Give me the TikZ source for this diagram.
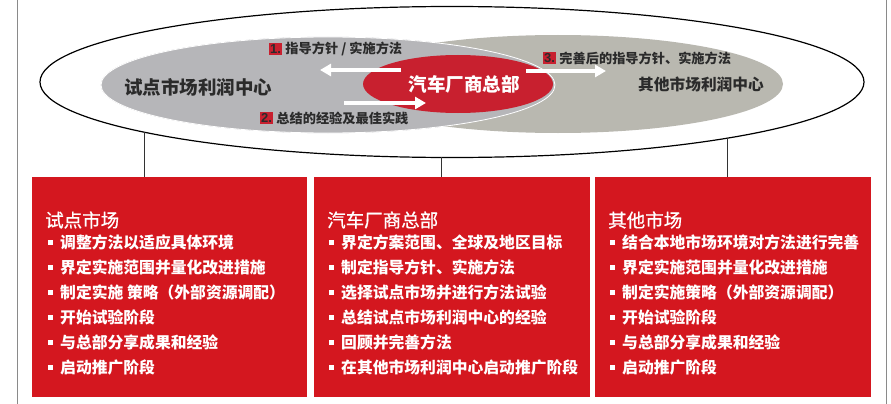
\documentclass[tikz,border=0pt]{standalone}
\usepackage{fontspec}
\newfontfamily\cjk{Noto Sans CJK SC}
\newfontfamily\cjkmed[FakeBold=0.8]{Noto Sans CJK SC}
\newfontfamily\arial{Liberation Sans}
\usetikzlibrary{arrows.meta}
\definecolor{boxred}{HTML}{D4171F}
\definecolor{ellred}{HTML}{C8202F}
\definecolor{grayL}{HTML}{B6B6B9}
\definecolor{grayR}{HTML}{B9B8B0}
\definecolor{darktxt}{HTML}{2B2B2B}
\definecolor{framegray}{HTML}{8A8A8A}
\newcommand\panelitems[3]{%
  \foreach \t [count=\i] in {#3} {
    \node[bulsq] (#1b\i) at (#2, 217+25*\i) {};
    \node[item] (#1t\i) at (#2+10, 217+25*\i) {\t};
  }}
\begin{document}
\begin{tikzpicture}[x=1pt,y=-1pt,
  panel/.style={fill=boxred, draw=none, minimum height=220pt, inner sep=0pt, anchor=north west},
  bulsq/.style={fill=white, draw=none, minimum size=5pt, inner sep=0pt},
  item/.style={anchor=west, inner sep=0pt, text=white, font=\cjk\bfseries\fontsize{15.8pt}{16pt}\selectfont},
  ptitle/.style={anchor=west, inner sep=0pt, text=white, font=\cjkmed\fontsize{18.5pt}{19pt}\selectfont},
  elltxt/.style={inner sep=0pt, text=darktxt, font=\cjk\bfseries\fontsize{18.5pt}{19pt}\selectfont},
  numbox/.style={anchor=west, fill=ellred, text=darktxt, inner xsep=1pt, inner ysep=1.5pt, font=\arial\bfseries\fontsize{13pt}{13pt}\selectfont},
  lbl/.style={anchor=west, inner sep=0pt, text=darktxt, font=\cjk\bfseries\fontsize{13.2pt}{13pt}\selectfont},
  warrow/.style={draw=white, line width=3.5pt, -{Triangle[length=11pt,width=12pt]}},
  conn/.style={draw=black!80, line width=1pt}
]
\useasboundingbox (0,0) rectangle (891,404);
% frame lines
\draw[framegray, line width=1pt] (17,0) -- (17,404);
\draw[framegray, line width=1pt] (886,0) -- (886,404);
% outer ellipse
\draw[black, line width=1.2pt, fill=white] (452,82) ellipse [x radius=412pt, y radius=75.5pt];
% gray ellipses
\fill[grayR] (558,84) ellipse [x radius=225pt, y radius=49pt];
\draw[grayL, fill=grayL] (328,85) ellipse [x radius=227pt, y radius=48pt];
\draw[white, line width=0.8pt] (328,85) ellipse [x radius=227pt, y radius=48pt];
% red ellipse
\fill[ellred] (458,84) ellipse [x radius=95pt, y radius=29pt];
% texts in ellipses
\node[elltxt] (pilot) at (198,87) {试点市场利润中心};
\node[elltxt, font=\cjk\bfseries\fontsize{15.7pt}{16pt}\selectfont] (other) at (701,84) {其他市场利润中心};
\node[elltxt, text=white] (hq) at (464,84) {汽车厂商总部};
% arrows
\coordinate (a1s) at (401,70); \coordinate (a1e) at (320,70);
\coordinate (a2s) at (344,103); \coordinate (a2e) at (426,103);
\coordinate (a3s) at (526,71); \coordinate (a3e) at (606,71);
\draw[warrow] (a1s) -- (a1e);
\draw[warrow] (a2s) -- (a2e);
\draw[warrow] (a3s) -- (a3e);
% labels
\node[numbox] (n1) at (269,49) {1.};
\node[lbl] (l1) at ([xshift=3pt]n1.east) {指导方针 / 实施方法};
\node[numbox] (n2) at (260,118) {2.};
\node[lbl] (l2) at ([xshift=3pt]n2.east) {总结的经验及最佳实践};
\node[numbox] (n3) at (543,58) {3.};
\node[lbl] (l3) at ([xshift=3pt]n3.east) {完善后的指导方针、实施方法};
% panels
\node[panel, minimum width=275pt] (p1) at (32,177) {};
\node[panel, minimum width=276pt] (p2) at (314,177) {};
\node[panel, minimum width=276pt] (p3) at (595,177) {};
% connectors
\coordinate (v1) at (144,132);
\coordinate (v2) at (441,157);
\coordinate (v3) at (727,138);
\draw[conn] (v1) -- (v1 |- p1.north);
\draw[conn] (v2) -- (v2 |- p2.north);
\draw[conn] (v3) -- (v3 |- p3.north);
% panel titles
\node[ptitle] (t1) at (45,220) {试点市场};
\node[ptitle] (t2) at (327,220) {汽车厂商总部};
\node[ptitle] (t3) at (608,220) {其他市场};
% items
\panelitems{a}{50}{调整方法以适应具体环境,界定实施范围并量化改进措施,制定实施 策略（外部资源调配）,开始试验阶段,与总部分享成果和经验,启动推广阶段}
\panelitems{b}{331}{界定方案范围、全球及地区目标,制定指导方针、实施方法,选择试点市场并进行方法试验,总结试点市场利润中心的经验,回顾并完善方法,在其他市场利润中心启动推广阶段}
\panelitems{c}{612}{结合本地市场环境对方法进行完善,界定实施范围并量化改进措施,制定实施策略（外部资源调配）,开始试验阶段,与总部分享成果和经验,启动推广阶段}
\end{tikzpicture}
\end{document}
